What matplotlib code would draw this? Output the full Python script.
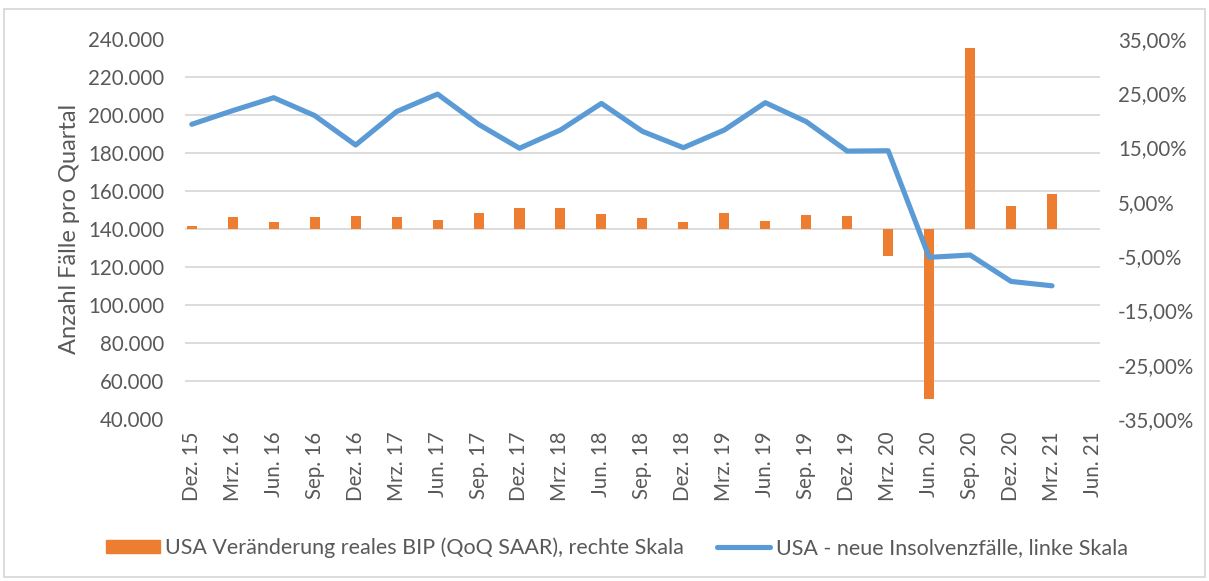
import numpy as np
import matplotlib
matplotlib.use("Agg")
import matplotlib.pyplot as plt
from matplotlib.patches import Rectangle
from matplotlib.lines import Line2D
from matplotlib.ticker import FuncFormatter

plt.rcParams['font.family'] = ['Lato', 'DejaVu Sans']

quarters = ["Dez. 15", "Mrz. 16", "Jun. 16", "Sep. 16", "Dez. 16", "Mrz. 17",
            "Jun. 17", "Sep. 17", "Dez. 17", "Mrz. 18", "Jun. 18", "Sep. 18",
            "Dez. 18", "Mrz. 19", "Jun. 19", "Sep. 19", "Dez. 19", "Mrz. 20",
            "Jun. 20", "Sep. 20", "Dez. 20", "Mrz. 21", "Jun. 21"]
# real GDP change QoQ SAAR in %, right axis (no value for Jun. 21)
bip = [0.6, 2.3, 1.3, 2.2, 2.4, 2.3, 1.7, 2.9, 3.9, 3.8, 2.7, 2.1,
       1.3, 2.9, 1.5, 2.6, 2.4, -5.0, -31.4, 33.4, 4.3, 6.4, np.nan]
# new insolvency cases per quarter, left axis
insolvenz = [195100, 202300, 209100, 199700, 184200, 201800, 211000, 195100,
             182500, 192100, 206100, 191400, 182800, 192100, 206500, 196500,
             181000, 181200, 125100, 126300, 112400, 110100, np.nan]

left_ticks = np.arange(40000, 240001, 20000)
right_ticks = np.arange(-35, 36, 10)

grey = "#595959"
grid_c = "#D9D9D9"
orange = "#ED7D31"
blue = "#5B9BD5"

fig = plt.figure(figsize=(12.09, 5.81), dpi=100)
axb = fig.add_axes([185 / 1209, 1 - 419 / 581, 915 / 1209, 380 / 581])
axl = axb.twinx()
x = np.arange(len(quarters))

# bars on the right-hand scale
axb.bar(x, bip, width=0.245, color=orange, zorder=2)
axb.set_ylim(-35, 35)
axb.set_yticks(right_ticks)
axb.yaxis.set_major_formatter(FuncFormatter(lambda v, p: f"{v:.2f}%".replace(".", ",")))
# gridlines follow the left axis ticks, drawn behind the bars
grid_pos = [-35 + (v - 40000) / 200000 * 70 for v in left_ticks]
axb.set_yticks(grid_pos, minor=True)
axb.yaxis.grid(True, which="minor", color=grid_c, linewidth=1.3, zorder=0)
axb.tick_params(axis="y", which="both", length=0, labelsize=14.8,
                labelcolor=grey, pad=13, left=False, labelleft=False,
                right=True, labelright=True)
axb.set_xlim(-0.165, 22.17)
axb.set_xticks(x)
axb.set_xticklabels(quarters, rotation=90, fontsize=14.8, color=grey)
axb.tick_params(axis="x", length=0, pad=9)
for s in axb.spines.values():
    s.set_visible(False)

# line on the left-hand scale
axl.plot(x, insolvenz, color=blue, linewidth=3.7, solid_capstyle="round",
         solid_joinstyle="round")
axl.set_ylim(40000, 240000)
axl.set_yticks(left_ticks)
axl.yaxis.set_major_formatter(FuncFormatter(lambda v, p: f"{int(v):,}".replace(",", ".")))
axl.tick_params(axis="y", length=0, labelsize=14.8, labelcolor=grey, pad=15,
                left=True, labelleft=True, right=False, labelright=False)
axl.yaxis.set_label_position("left")
axl.set_ylabel("Anzahl Fälle pro Quartal", fontsize=17, color=grey)
axl.yaxis.set_label_coords(-0.115, 0.5)
for s in axl.spines.values():
    s.set_visible(False)

handles = [Rectangle((0, 0), 1, 1, color=orange),
           Line2D([0], [0], color=blue, linewidth=3.7, solid_capstyle="round")]
names = ["USA Veränderung reales BIP (QoQ SAAR), rechte Skala",
         "USA - neue Insolvenzfälle, linke Skala"]
fig.legend(handles, names, loc="center", bbox_to_anchor=(617 / 1209, 1 - 548 / 581),
           ncol=2, frameon=False, fontsize=15.5, labelcolor=grey,
           handlelength=2.5, handleheight=0.55, handletextpad=0.25,
           columnspacing=1.5)

# outer chart border
fig.patches.append(Rectangle((4 / 1209, 4 / 581), 1201 / 1209, 568 / 581,
                             transform=fig.transFigure, fill=False,
                             edgecolor=grid_c, linewidth=1.3))

fig.savefig("out.png", dpi=100)
